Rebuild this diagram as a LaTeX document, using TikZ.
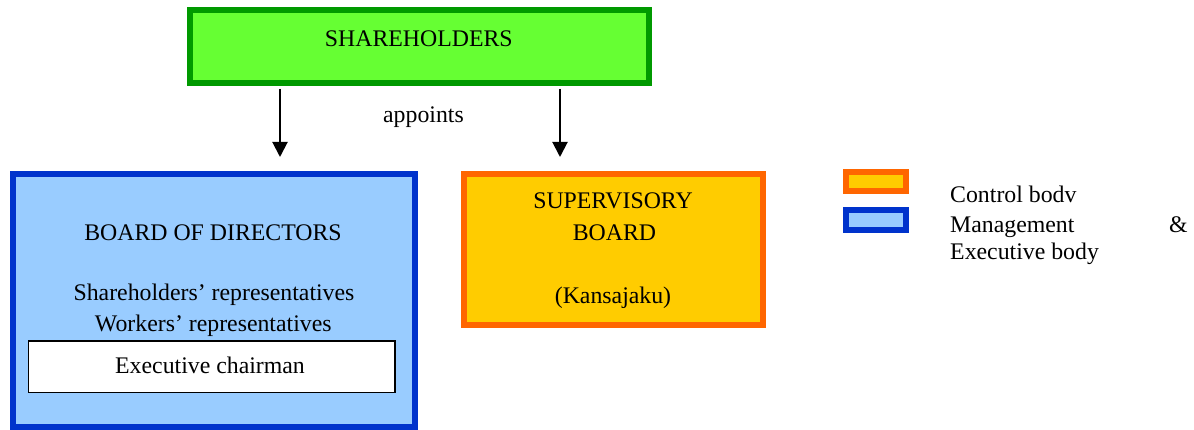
\documentclass[tikz,border=0pt]{standalone}
\usepackage{fontspec}
\setmainfont{Liberation Serif}
\usetikzlibrary{arrows.meta}
\definecolor{shfill}{HTML}{66FF33}
\definecolor{shline}{HTML}{009900}
\definecolor{bdfill}{HTML}{99CCFF}
\definecolor{bdline}{HTML}{0033CC}
\definecolor{sbfill}{HTML}{FFCC00}
\definecolor{sbline}{HTML}{FF6600}
\begin{document}
\begin{tikzpicture}[x=1pt,y=-1pt,
  txt/.style={font=\fontsize{23.8}{28}\selectfont, inner sep=0pt, anchor=base},
  ltxt/.style={txt, anchor=base west},
  box/.style={draw, line width=6pt, inner sep=0pt},
  arr/.style={line width=2pt, -{Triangle[length=15pt,width=15pt]}}]
\useasboundingbox (0,0) rectangle (1194,430);

% shareholders
\node[box, draw=shline, fill=shfill, minimum width=459pt, minimum height=73pt] (sh) at (419.5,46.5) {};
\node[txt] (shT) at (418.8,47) {SHAREHOLDERS};

% appointment arrows
\coordinate (a1s) at (280,89);
\coordinate (a1e) at (280,157);
\coordinate (a2s) at (560,89);
\coordinate (a2e) at (560,157);
\draw[arr] (a1s) -- (a1e);
\draw[arr] (a2s) -- (a2e);
\node[txt] (app) at (423.5,122.7) {appoints};

% board of directors
\node[box, draw=bdline, fill=bdfill, minimum width=402.5pt, minimum height=252pt] (bd) at (213.75,300.5) {};
\node[txt] (bdT) at (213,241) {BOARD OF DIRECTORS};
\node[txt] (bdS) at (214,301) {Shareholders’ representatives};
\node[txt] (bdW) at (213.3,331.7) {Workers’ representatives};
\node[draw, line width=1.2pt, fill=white, inner sep=0pt, minimum width=366.7pt, minimum height=51.7pt] (ec) at (211.7,366.9) {};
\node[txt] (ecT) at (210,373) {Executive chairman};

% supervisory board
\node[box, draw=sbline, fill=sbfill, minimum width=299pt, minimum height=150.5pt] (sb) at (613.9,249.5) {};
\node[txt] (sb1) at (613,209) {SUPERVISORY};
\node[txt] (sb2) at (614.5,241) {BOARD};
\node[txt] (sb3) at (613,304) {(Kansajaku)};

% legend
\node[box, draw=sbline, fill=sbfill, minimum width=60.6pt, minimum height=18.7pt] (lg1) at (876,181.3) {};
\node[box, draw=bdline, fill=bdfill, minimum width=60.6pt, minimum height=19.4pt] (lg2) at (876,220) {};
\node[ltxt] (lt1) at (950,202.7) {Control bodv};
\node[ltxt] (lt2) at (950,232.7) {Management};
\node[ltxt] (lt3) at (1169,232.7) {\&};
\node[ltxt] (lt4) at (950,260) {Executive body};
\end{tikzpicture}
\end{document}
